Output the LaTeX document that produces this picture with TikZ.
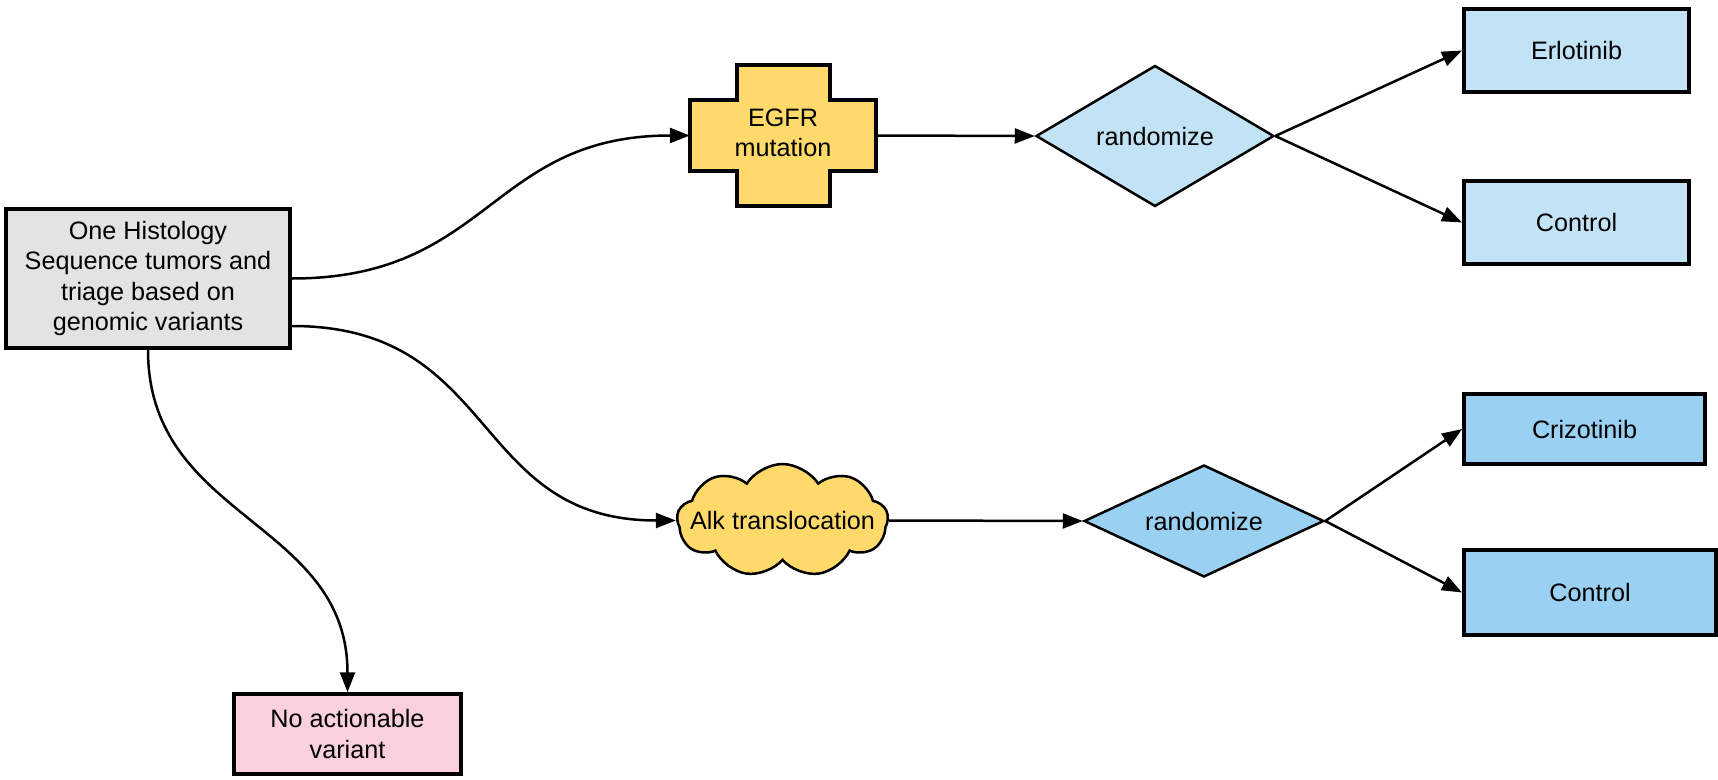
\documentclass[tikz,border=0pt]{standalone}
\usepackage{fontspec}
\setmainfont{Liberation Sans}
\usetikzlibrary{arrows.meta,shapes.geometric,shapes.symbols}

\definecolor{boxgray}{HTML}{E3E3E3}
\definecolor{mutyellow}{HTML}{FFDA6B}
\definecolor{paleblue}{HTML}{C2E3F5}
\definecolor{midblue}{HTML}{9AD1F2}
\definecolor{softpink}{HTML}{F9D0DC}

\tikzset{
  lbl/.style={font=\fontsize{25.2}{30.5}\selectfont, align=center, text=black},
  boxnode/.style={lbl, draw=black, line width=4pt, rectangle, inner sep=2pt},
  choice/.style={lbl, draw=black, line width=2.5pt, diamond, aspect=2, inner sep=0pt},
  link/.style={draw=black, line width=2.5pt, -{Triangle[length=20pt,width=15pt]}},
}

\begin{document}
\begin{tikzpicture}[x=1pt, y=-1pt]
\useasboundingbox (0,0) rectangle (1718,779);

% entry box
\node[boxnode, fill=boxgray, minimum width=284pt, minimum height=139pt] (main) at (148,278.5)
  {One Histology\\Sequence tumors and\\triage based on\\genomic variants};
\coordinate (mainlow) at ([yshift=-47.5pt]main.east);

% EGFR cross outline
\draw[line width=4pt, fill=mutyellow, line join=miter]
  (690,100) -- (737,100) -- (737,65) -- (830,65) -- (830,100) -- (876,100)
  -- (876,171) -- (830,171) -- (830,206) -- (737,206) -- (737,171) -- (690,171) -- cycle;
\node[lbl, rectangle, minimum width=186pt, minimum height=71pt, inner sep=0pt] (egfr) at (783,135.5) {};
\node[lbl] (egfrtext) at (783,133) {EGFR\\mutation};

% Alk cloud
\node[cloud, draw=black, line width=2.5pt, fill=mutyellow, cloud puffs=9, cloud puff arc=115,
      cloud ignores aspect, minimum width=211pt, minimum height=113pt, inner sep=0pt] (alk) at (782.5,520.5) {};
\node[lbl] (alktext) at (alk.center) {Alk translocation};

% randomisation steps
\node[choice, fill=paleblue, minimum width=238pt, minimum height=141pt] (d1) at (1155,136) {randomize};
\node[choice, fill=midblue, minimum width=240pt, minimum height=112pt] (d2) at (1204,521) {randomize};

% arms
\node[boxnode, fill=paleblue, minimum width=225pt, minimum height=83pt] (erl) at (1576.5,50.5) {Erlotinib};
\node[boxnode, fill=paleblue, minimum width=225pt, minimum height=83pt] (ctl1) at (1576.5,222.5) {Control};
\node[boxnode, fill=midblue, minimum width=241pt, minimum height=70pt] (criz) at (1584.5,429) {Crizotinib};
\node[boxnode, fill=midblue, minimum width=252pt, minimum height=85pt] (ctl2) at (1590,592.5) {Control};

% no actionable variant
\node[boxnode, line width=3.5pt, fill=softpink, minimum width=227pt, minimum height=80pt] (noact) at (347.5,734)
  {No actionable\\variant};

% connectors
\draw[link] (main.east) .. controls (490,278.5) and (490,135.5) .. (egfr.west);
\draw[link] (mainlow) .. controls (500,326) and (470,520.5) .. (alk.west);
\draw[link] (main.south) .. controls (148,520) and (347.5,520) .. (noact.north);

\draw[link] (egfr.east) -- (d1.west);
\draw[link] (d1.east) -- (erl.west);
\draw[link] (d1.east) -- (ctl1.west);

\draw[link] (alk.east) -- (d2.west);
\draw[link] (d2.east) -- (criz.west);
\draw[link] (d2.east) -- (ctl2.west);
\end{tikzpicture}
\end{document}
